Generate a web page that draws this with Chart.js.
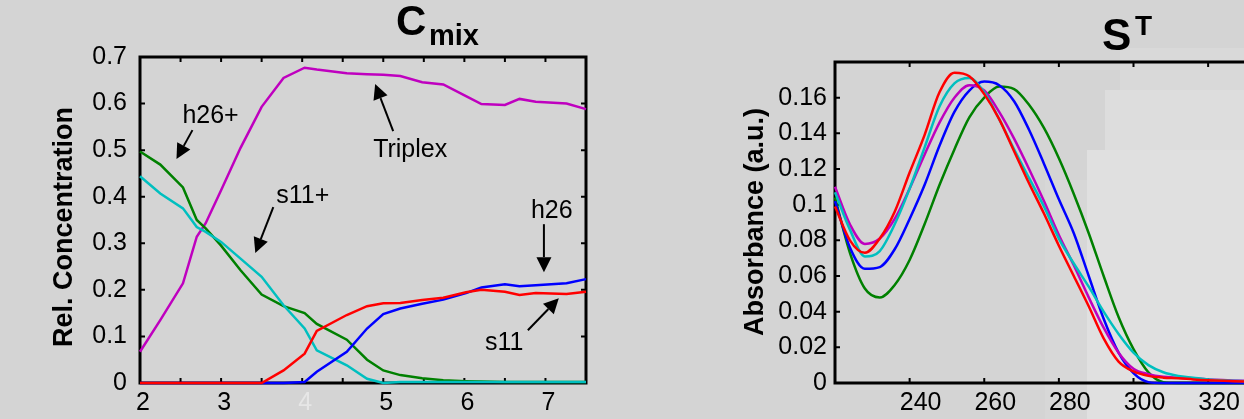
<!DOCTYPE html>
<html><head><meta charset="utf-8">
<script src="https://cdn.jsdelivr.net/npm/chart.js@4.4.1/dist/chart.umd.min.js"></script>
<style>
html,body{margin:0;padding:0;width:1244px;height:419px;overflow:hidden;background:#d4d4d4;}
#wrap{position:relative;width:1244px;height:419px;overflow:hidden;background:#d4d4d4;}
.blk{position:absolute;}
canvas{position:absolute;top:0;}
</style></head><body>
<div id="wrap">
<div class="blk" style="left:1045px;top:180px;width:42px;height:239px;background:#d7d7d7"></div>
<div class="blk" style="left:1087px;top:150px;width:157px;height:269px;background:#e0e0e0"></div>
<div class="blk" style="left:1105px;top:90px;width:139px;height:60px;background:#dddddd"></div>
<div class="blk" style="left:1120px;top:48px;width:124px;height:42px;background:#d9d9d9"></div>
<canvas id="c1" width="640" height="419" style="left:0"></canvas>
<canvas id="c2" width="840" height="419" style="left:660px"></canvas>
</div>
<script>
// ---------- Left panel: C_mix ----------
const pH = [2.0, 2.25, 2.53, 2.7, 2.81, 3.0, 3.24, 3.5, 3.77, 4.03, 4.18, 4.55, 4.8, 5.0, 5.21, 5.48, 5.74, 6.02, 6.21, 6.5, 6.68, 6.88, 7.26, 7.5];
const triplex = [0.067, 0.135, 0.214, 0.314, 0.343, 0.414, 0.505, 0.593, 0.655, 0.677, 0.673, 0.665, 0.663, 0.662, 0.659, 0.646, 0.641, 0.616, 0.599, 0.597, 0.610, 0.604, 0.600, 0.588];
const h26plus = [0.497, 0.469, 0.420, 0.350, 0.332, 0.295, 0.242, 0.190, 0.165, 0.150, 0.127, 0.093, 0.050, 0.027, 0.017, 0.010, 0.006, 0.004, 0.003, 0.002, 0.002, 0.002, 0.002, 0.002];
const s11plus = [0.444, 0.407, 0.375, 0.335, 0.3245, 0.303, 0.267, 0.228, 0.167, 0.117, 0.070, 0.038, 0.009, 0.0, 0.002, 0.002, 0.002, 0.002, 0.002, 0.002, 0.002, 0.002, 0.002, 0.002];
const s11 = [0, 0, 0, 0, 0, 0, 0, 0, 0.027, 0.063, 0.112, 0.146, 0.165, 0.171, 0.172, 0.178, 0.183, 0.195, 0.200, 0.196, 0.189, 0.193, 0.191, 0.196];
const h26 = [0, 0, 0, 0, 0, 0, 0, 0, 0, 0.002, 0.024, 0.067, 0.117, 0.148, 0.160, 0.170, 0.179, 0.193, 0.205, 0.212, 0.208, 0.210, 0.214, 0.223];

const xTicksLeft = [2, 3, 4, 5, 6, 7];
const xTickLabelsLeft = ['2', '3', '4', '5', '6', '7'];
const xMinorLeft = [2.5, 3, 3.5, 4, 4.5, 5, 5.5, 6, 6.5, 7];
const yTicksLeft = [0, 0.1, 0.2, 0.3, 0.4, 0.5, 0.6, 0.7];
const yTickLabelsLeft = ['0', '0.1', '0.2', '0.3', '0.4', '0.5', '0.6', '0.7'];

const annLabels = ['h26+', 'Triplex', 's11+', 'h26', 's11'];
const annTextX = [2.523, 4.875, 3.681, 6.821, 6.254];
const annTextY = [0.558, 0.485, 0.386, 0.354, 0.0703];
const annTailX = [2.647, 5.122, 3.644, 6.981, 6.783];
const annTailY = [0.543, 0.541, 0.3776, 0.341, 0.1133];
const annTipX = [2.450, 4.900, 3.422, 6.981, 7.165];
const annTipY = [0.481, 0.642, 0.279, 0.238, 0.182];

// ---------- Right panel: S^T ----------
const wavelength = [220, 224, 228, 232, 236, 240, 244, 248, 252, 256, 260, 264, 268, 272, 276, 280, 284, 288, 292, 296, 300, 304, 308, 312, 316, 320, 330, 340, 360, 380];
const specRed = [0.099, 0.080, 0.073, 0.081, 0.096, 0.118, 0.139, 0.163, 0.174, 0.172, 0.162, 0.148, 0.130, 0.112, 0.095, 0.077, 0.060, 0.043, 0.025, 0.012, 0.0065, 0.004, 0.003, 0.0027, 0.002, 0.0015, 0.0008, 0.0004, 0, 0];
const specCyan = [0.107, 0.086, 0.071, 0.074, 0.089, 0.109, 0.132, 0.155, 0.168, 0.171, 0.163, 0.148, 0.131, 0.115, 0.099, 0.081, 0.067, 0.054, 0.040, 0.0275, 0.017, 0.010, 0.006, 0.004, 0.003, 0.002, 0.001, 0.0005, 0, 0];
const specMagenta = [0.110, 0.089, 0.078, 0.081, 0.092, 0.109, 0.128, 0.146, 0.160, 0.167, 0.164, 0.152, 0.137, 0.120, 0.102, 0.083, 0.066, 0.048, 0.031, 0.017, 0.008, 0.005, 0.0035, 0.003, 0.0025, 0.002, 0.0012, 0.0006, 0, 0];
const specBlue = [0.102, 0.076, 0.064, 0.065, 0.075, 0.092, 0.111, 0.133, 0.152, 0.164, 0.169, 0.167, 0.158, 0.142, 0.123, 0.103, 0.084, 0.060, 0.036, 0.017, 0.0055, 0.0005, 0, 0, 0, 0, 0, 0, 0, 0];
const specGreen = [0.104, 0.073, 0.053, 0.048, 0.055, 0.069, 0.089, 0.111, 0.131, 0.149, 0.160, 0.1662, 0.1648, 0.156, 0.143, 0.126, 0.106, 0.084, 0.060, 0.037, 0.019, 0.006, 0.0005, 0, 0, 0, 0, 0, 0, 0];

const xTicksRight = [240, 260, 280, 300, 320, 340, 360];
const xTickLabelsRight = ['240', '260', '280', '300', '320', '340', '360'];
const xMinorRight = [240, 260, 280, 300, 320, 340, 360];
const yTicksRight = [0, 0.02, 0.04, 0.06, 0.08, 0.1, 0.12, 0.14, 0.16];
const yTickLabelsRight = ['0', '0.02', '0.04', '0.06', '0.08', '0.1', '0.12', '0.14', '0.16'];

const FONT = '"Liberation Sans", Arial, sans-serif';

function pairs(xs, ys) { return xs.map((x, i) => ({x: x, y: ys[i]})); }

const framePlugin = {
  id: 'frame',
  beforeDatasetsDraw(chart, args, o) {
    const {ctx, chartArea: a, scales: {x, y}} = chart;
    ctx.save();
    ctx.strokeStyle = '#000';
    ctx.lineWidth = 3;
    ctx.strokeRect(a.left, a.top, a.right - a.left, a.bottom - a.top);
    ctx.lineWidth = 2;
    const L = 5;
    ctx.beginPath();
    for (const v of o.xMinor) {
      const px = x.getPixelForValue(v);
      ctx.moveTo(px, a.bottom); ctx.lineTo(px, a.bottom - L);
      ctx.moveTo(px, a.top); ctx.lineTo(px, a.top + L);
    }
    for (const v of o.yMinor) {
      const py = y.getPixelForValue(v);
      ctx.moveTo(a.left, py); ctx.lineTo(a.left + L, py);
      ctx.moveTo(a.right, py); ctx.lineTo(a.right - L, py);
    }
    ctx.stroke();
    ctx.restore();
  },
  afterDatasetsDraw(chart, args, o) {
    const {ctx, scales: {x, y}} = chart;
    ctx.save();
    ctx.strokeStyle = '#000';
    ctx.fillStyle = '#000';
    ctx.font = 'bold 27px ' + FONT;
    ctx.textAlign = 'center';
    ctx.textBaseline = 'alphabetic';
    ctx.save();
    ctx.translate(o.yTitleX, o.yTitleY);
    ctx.rotate(-Math.PI / 2);
    ctx.fillText(o.yTitle, 0, 0);
    ctx.restore();

    ctx.textAlign = 'left';
    ctx.font = 'bold ' + o.tMainSize + 'px ' + FONT;
    ctx.fillText(o.tMain, o.tX, o.tY);
    ctx.font = 'bold ' + o.tSubSize + 'px ' + FONT;
    ctx.fillText(o.tSub, o.tSubX, o.tSubY);

    if (o.ann) {
      ctx.font = '25px ' + FONT;
      ctx.textAlign = 'left';
      ctx.textBaseline = 'alphabetic';
      for (let i = 0; i < o.ann.labels.length; i++) {
        ctx.fillText(o.ann.labels[i], x.getPixelForValue(o.ann.tx[i]), y.getPixelForValue(o.ann.ty[i]));
        const x0 = x.getPixelForValue(o.ann.ax0[i]), y0 = y.getPixelForValue(o.ann.ay0[i]);
        const x1 = x.getPixelForValue(o.ann.ax1[i]), y1 = y.getPixelForValue(o.ann.ay1[i]);
        const ang = Math.atan2(y1 - y0, x1 - x0);
        const HL = 15, HW = 7.5;
        const bx = x1 - HL * Math.cos(ang), by = y1 - HL * Math.sin(ang);
        ctx.lineWidth = 2;
        ctx.beginPath(); ctx.moveTo(x0, y0); ctx.lineTo(bx, by); ctx.stroke();
        ctx.beginPath();
        ctx.moveTo(x1, y1);
        ctx.lineTo(bx + HW * Math.sin(ang), by - HW * Math.cos(ang));
        ctx.lineTo(bx - HW * Math.sin(ang), by + HW * Math.cos(ang));
        ctx.closePath(); ctx.fill();
      }
    }
    ctx.restore();
  }
};

function lineDs(label, xs, ys, color, smooth) {
  return {
    label: label, data: pairs(xs, ys), borderColor: color, backgroundColor: color,
    borderWidth: 2.5, pointRadius: 0, fill: false, clip: 4,
    tension: smooth ? 0.4 : 0, cubicInterpolationMode: smooth ? 'monotone' : 'default'
  };
}

// Chart.js draws dataset 0 on top, so the list runs from top-most to bottom-most
new Chart(document.getElementById('c1'), {
  type: 'line',
  data: {
    datasets: [
      lineDs('s11', pH, s11, '#ff0000', false),
      lineDs('h26', pH, h26, '#0000ff', false),
      lineDs('s11+', pH, s11plus, '#00bfbf', false),
      lineDs('h26+', pH, h26plus, '#008000', false),
      lineDs('Triplex', pH, triplex, '#bf00bf', false)
    ]
  },
  options: {
    responsive: false, animation: false,
    layout: {padding: {left: 0, top: 57, right: 54, bottom: 0}},
    plugins: {
      legend: {display: false}, tooltip: {enabled: false},
      frame: {
        xMinor: xMinorLeft, yMinor: yTicksLeft,
        yTitle: 'Rel. Concentration', yTitleX: 72, yTitleY: 227,
        tMain: 'C', tMainSize: 42, tX: 396, tY: 35,
        tSub: 'mix', tSubSize: 29, tSubX: 429, tSubY: 45,
        ann: {labels: annLabels, tx: annTextX, ty: annTextY, ax0: annTailX, ay0: annTailY, ax1: annTipX, ay1: annTipY}
      }
    },
    scales: {
      x: {
        type: 'linear', min: 2, max: 7.5,
        afterBuildTicks: s => { s.ticks = xTicksLeft.map(v => ({value: v})); },
        afterFit: s => { s.height = 36; },
        grid: {display: false, drawTicks: false}, border: {display: false},
        ticks: {
          callback: (v, i) => xTickLabelsLeft[i], padding: 5, labelOffset: 3, maxRotation: 0, autoSkip: false,
          font: {family: FONT, size: 25},
          color: c => (c.tick && c.tick.value === 4) ? '#e6e6e6' : '#000'
        }
      },
      y: {
        type: 'linear', min: 0, max: 0.7,
        afterBuildTicks: s => { s.ticks = yTicksLeft.map(v => ({value: v})); },
        afterFit: s => { s.width = 140; },
        grid: {display: false, drawTicks: false}, border: {display: false},
        ticks: {callback: (v, i) => yTickLabelsLeft[i], padding: 13, autoSkip: false, font: {family: FONT, size: 25}, color: '#000'}
      }
    }
  },
  plugins: [framePlugin]
});

new Chart(document.getElementById('c2'), {
  type: 'line',
  data: {
    datasets: [
      lineDs('red', wavelength, specRed, '#ff0000', true),
      lineDs('cyan', wavelength, specCyan, '#00bfbf', true),
      lineDs('magenta', wavelength, specMagenta, '#bf00bf', true),
      lineDs('blue', wavelength, specBlue, '#0000ff', true),
      lineDs('green', wavelength, specGreen, '#008000', true)
    ]
  },
  options: {
    responsive: false, animation: false,
    layout: {padding: {left: 0, top: 62, right: 68, bottom: 0}},
    plugins: {
      legend: {display: false}, tooltip: {enabled: false},
      frame: {
        xMinor: xMinorRight, yMinor: yTicksRight,
        yTitle: 'Absorbance (a.u.)', yTitleX: 103, yTitleY: 222,
        tMain: 'S', tMainSize: 44, tX: 442, tY: 50,
        tSub: 'T', tSubSize: 28, tSubX: 475, tSubY: 35,
        ann: null
      }
    },
    scales: {
      x: {
        type: 'linear', min: 220, max: 380,
        afterBuildTicks: s => { s.ticks = xTicksRight.map(v => ({value: v})); },
        afterFit: s => { s.height = 36; },
        grid: {display: false, drawTicks: false}, border: {display: false},
        ticks: {callback: (v, i) => xTickLabelsRight[i], padding: 5, labelOffset: 11, maxRotation: 0, autoSkip: false, font: {family: FONT, size: 25}, color: '#000'}
      },
      y: {
        type: 'linear', min: 0, max: 0.18,
        afterBuildTicks: s => { s.ticks = yTicksRight.map(v => ({value: v})); },
        afterFit: s => { s.width = 175; },
        grid: {display: false, drawTicks: false}, border: {display: false},
        ticks: {callback: (v, i) => yTickLabelsRight[i], padding: 8, autoSkip: false, font: {family: FONT, size: 25}, color: '#000'}
      }
    }
  },
  plugins: [framePlugin]
});
</script>
</body></html>
